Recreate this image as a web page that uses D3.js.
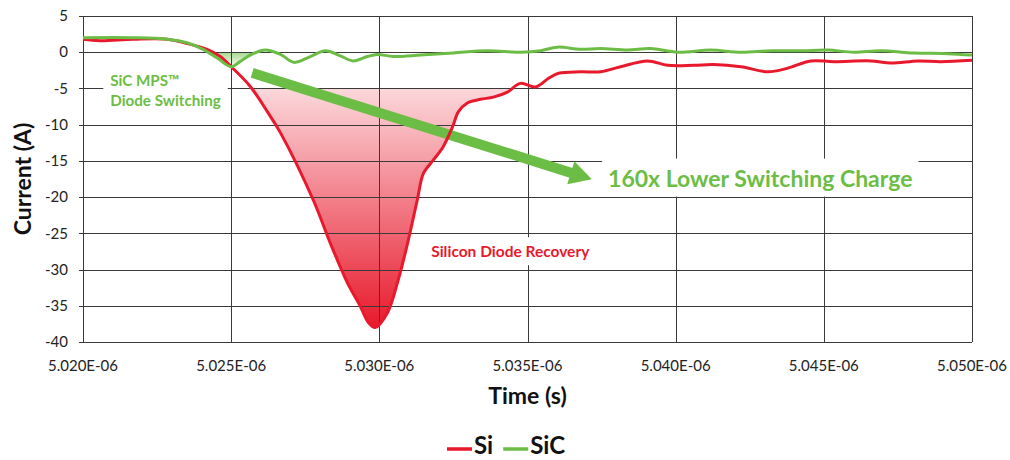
<!DOCTYPE html>
<html>
<head>
<meta charset="utf-8">
<script src="https://cdn.jsdelivr.net/npm/d3@7"></script>
<style>
  html, body { margin: 0; padding: 0; background: #fff; }
  svg { display: block; }
  text { font-family: Lato, "Open Sans", sans-serif; }
</style>
</head>
<body>
<svg id="chart" width="1010" height="460"></svg>
<script>
// ---- data (time in ns, current in A) ----
const siTime = [5020.00, 5020.57, 5021.69, 5022.84, 5023.51, 5024.19, 5024.63, 5025.00, 5025.64, 5026.22,
  5026.66, 5027.77, 5028.34, 5028.92, 5029.36, 5029.63, 5029.86, 5030.27, 5030.64, 5030.98,
  5031.28, 5031.49, 5031.82, 5032.16, 5032.47, 5032.67, 5032.97, 5033.41, 5033.85, 5034.32,
  5034.76, 5035.27, 5035.71, 5036.05, 5036.79, 5037.47, 5038.14, 5039.05, 5039.73, 5040.61,
  5041.28, 5042.20, 5043.11, 5043.78, 5044.56, 5045.34, 5046.59, 5047.26, 5048.18, 5048.95, 5050.00];
const siCurrent = [1.8, 1.6, 1.8, 1.8, 1.2, 0.4, -0.6, -2.0, -4.7, -8.2,
  -11.1, -20.4, -26.3, -31.8, -35.1, -37.3, -38.0, -36.0, -31.4, -25.9,
  -20.4, -16.7, -14.9, -13.0, -10.3, -8.2, -7.0, -6.5, -6.2, -5.5,
  -4.3, -4.8, -3.6, -2.9, -2.7, -2.7, -2.0, -1.2, -1.8, -1.8,
  -1.7, -2.0, -2.7, -2.2, -1.2, -1.3, -1.2, -1.5, -1.2, -1.3, -1.1];

const sicTime = [5020.00, 5021.69, 5022.84, 5023.51, 5024.05, 5024.53, 5025.00, 5025.30, 5025.64, 5026.15,
  5026.66, 5027.13, 5027.67, 5028.18, 5028.68, 5029.12, 5029.59, 5029.93, 5030.47, 5031.39,
  5032.50, 5033.65, 5034.76, 5035.44, 5036.01, 5036.79, 5037.47, 5038.38, 5039.15, 5040.07,
  5041.18, 5042.20, 5043.21, 5044.22, 5045.14, 5046.01, 5046.93, 5048.04, 5049.19, 5050.00];
const sicCurrent = [2.0, 2.0, 1.8, 1.3, 0.4, -0.8, -2.0, -1.3, -0.4, 0.3,
  -0.3, -1.4, -0.6, 0.2, -0.5, -1.2, -0.6, -0.3, -0.6, -0.4,
  -0.1, 0.2, 0.0, 0.2, 0.7, 0.4, 0.5, 0.3, 0.5, 0.0,
  0.3, 0.0, 0.2, 0.2, 0.3, 0.0, 0.2, -0.1, -0.2, -0.4];

const xTicks = [5020, 5025, 5030, 5035, 5040, 5045, 5050];
const xTickLabels = ["5.020E-06", "5.025E-06", "5.030E-06", "5.035E-06", "5.040E-06", "5.045E-06", "5.050E-06"];
const yTicks = [5, 0, -5, -10, -15, -20, -25, -30, -35, -40];
const seriesNames = ["Si", "SiC"];
const seriesColors = ["#e8192c", "#6cbd45"];

// ---- layout ----
const svg = d3.select("#chart");
const x = d3.scaleLinear().domain([5020, 5050]).range([83, 972]);
const y = d3.scaleLinear().domain([-40, 5]).range([342, 16]);
const RED = seriesColors[0], GREEN = seriesColors[1];

const si = siTime.map((t, i) => ({t, v: siCurrent[i]}));
const sic = sicTime.map((t, i) => ({t, v: sicCurrent[i]}));
const curve = d3.curveCatmullRom.alpha(0.5);

const defs = svg.append("defs");
const rg = defs.append("linearGradient").attr("id", "redGrad")
  .attr("gradientUnits", "userSpaceOnUse")
  .attr("x1", 0).attr("x2", 0).attr("y1", y(-5)).attr("y2", y(-38));
rg.append("stop").attr("offset", 0).attr("stop-color", RED).attr("stop-opacity", 0.17);
rg.append("stop").attr("offset", 1).attr("stop-color", RED).attr("stop-opacity", 1);
const gg = defs.append("linearGradient").attr("id", "greenGrad")
  .attr("gradientUnits", "userSpaceOnUse")
  .attr("x1", 0).attr("x2", 0).attr("y1", y(0)).attr("y2", y(-2));
gg.append("stop").attr("offset", 0).attr("stop-color", GREEN).attr("stop-opacity", 0.6);
gg.append("stop").attr("offset", 1).attr("stop-color", GREEN).attr("stop-opacity", 0.05);

defs.append("clipPath").attr("id", "clipRed").append("rect")
  .attr("x", x(5020)).attr("y", y(-5)).attr("width", x(5050) - x(5020)).attr("height", y(-40) - y(-5));
defs.append("clipPath").attr("id", "clipGreen").append("rect")
  .attr("x", x(5023.95)).attr("y", y(0)).attr("width", x(5025.95) - x(5023.95)).attr("height", y(-5) - y(0));

// fills
svg.append("path").datum(si)
  .attr("clip-path", "url(#clipRed)")
  .attr("fill", "url(#redGrad)")
  .attr("d", d3.area().curve(curve).x(d => x(d.t)).y0(y(-5)).y1(d => y(d.v)));
svg.append("path").datum(sic)
  .attr("clip-path", "url(#clipGreen)")
  .attr("fill", "url(#greenGrad)")
  .attr("d", d3.area().curve(curve).x(d => x(d.t)).y0(y(0)).y1(d => y(d.v)));

// grid
const grid = svg.append("g").attr("stroke", "#3a3a3a").attr("stroke-width", 1).attr("shape-rendering", "crispEdges");
grid.selectAll("line.h").data(yTicks).join("line").attr("class", "h")
  .attr("x1", x(5020) - 4).attr("x2", x(5050))
  .attr("y1", d => Math.round(y(d)) + 0.5).attr("y2", d => Math.round(y(d)) + 0.5);
grid.selectAll("line.v").data(xTicks).join("line").attr("class", "v")
  .attr("y1", y(5)).attr("y2", y(-40))
  .attr("x1", d => Math.round(x(d)) + 0.5).attr("x2", d => Math.round(x(d)) + 0.5);

// tick labels
svg.append("g").selectAll("text").data(yTicks).join("text")
  .attr("x", 68).attr("y", d => y(d)).attr("dy", "0.35em")
  .attr("text-anchor", "end").attr("font-size", 15).attr("fill", "#222")
  .text(d => d);
svg.append("g").selectAll("text").data(xTicks).join("text")
  .attr("x", d => x(d)).attr("y", 371)
  .attr("text-anchor", "middle").attr("font-size", 15).attr("fill", "#222")
  .text((d, i) => xTickLabels[i]);

// axis titles
svg.append("text").attr("x", x(5035)).attr("y", 404).attr("text-anchor", "middle")
  .attr("font-size", 23).attr("font-weight", "bold").attr("fill", "#111").text("Time (s)");
svg.append("text").attr("transform", `translate(31,${(y(5) + y(-40)) / 2}) rotate(-90)`)
  .attr("text-anchor", "middle").attr("font-size", 23).attr("font-weight", "bold").attr("fill", "#111")
  .text("Current (A)");

// label helper with white background
function label(lines, t, v, size, color, pad, lineH) {
  const g = svg.append("g");
  const bg = g.append("rect").attr("fill", "#fff");
  const tx = g.append("text").attr("x", x(t)).attr("y", y(v))
    .attr("font-size", size).attr("font-weight", "bold").attr("fill", color);
  lines.forEach((l, i) => tx.append("tspan").attr("x", x(t)).attr("dy", i === 0 ? 0 : lineH).text(l));
  const b = tx.node().getBBox();
  bg.attr("x", b.x - pad[0]).attr("y", b.y - pad[1]).attr("width", b.width + 2 * pad[0]).attr("height", b.height + 2 * pad[1]);
}

// arrow geometry
const p0 = [x(5025.71), y(-2.85)], p1 = [x(5037.17), y(-17.55)];
const dx = p1[0] - p0[0], dy = p1[1] - p0[1], L = Math.hypot(dx, dy);
const ux = dx / L, uy = dy / L, nx = -uy, ny = ux;
const headL = 22, headW = 12;
const base = [p1[0] - ux * headL, p1[1] - uy * headL];

label(["SiC MPS™", "Diode Switching"], 5020.92, -4.66, 15.2, GREEN, [7, 4], 20);
label(["Silicon Diode Recovery"], 5031.75, -28.3, 15.5, RED, [5, 5], 0);
label(["160x Lower Switching Charge"], 5037.72, -18.55, 23, GREEN, [6, 5], 0);

svg.append("line").attr("x1", p0[0]).attr("y1", p0[1]).attr("x2", base[0] + ux * 2).attr("y2", base[1] + uy * 2)
  .attr("stroke", GREEN).attr("stroke-width", 10);
svg.append("path").attr("fill", GREEN)
  .attr("d", `M${p1[0]},${p1[1]}L${base[0] + nx * headW},${base[1] + ny * headW}L${base[0] - nx * headW},${base[1] - ny * headW}Z`);

// lines
const line = d3.line().curve(curve).x(d => x(d.t)).y(d => y(d.v));
svg.append("path").datum(si).attr("fill", "none").attr("stroke", RED).attr("stroke-width", 3).attr("d", line);
svg.append("path").datum(sic).attr("fill", "none").attr("stroke", GREEN).attr("stroke-width", 3).attr("d", line);

// legend
const lg = svg.append("g").attr("transform", "translate(447,446)");
let lx = 0;
seriesNames.forEach((n, i) => {
  lg.append("line").attr("x1", lx).attr("x2", lx + 25).attr("y1", 3).attr("y2", 3)
    .attr("stroke", seriesColors[i]).attr("stroke-width", 3.5);
  const t = lg.append("text").attr("x", lx + 27).attr("y", 0).attr("dy", "0.35em")
    .attr("font-size", 24).attr("font-weight", "bold").attr("fill", "#111").text(n);
  lx += 27 + t.node().getComputedTextLength() + 10;
});
</script>
</body>
</html>
